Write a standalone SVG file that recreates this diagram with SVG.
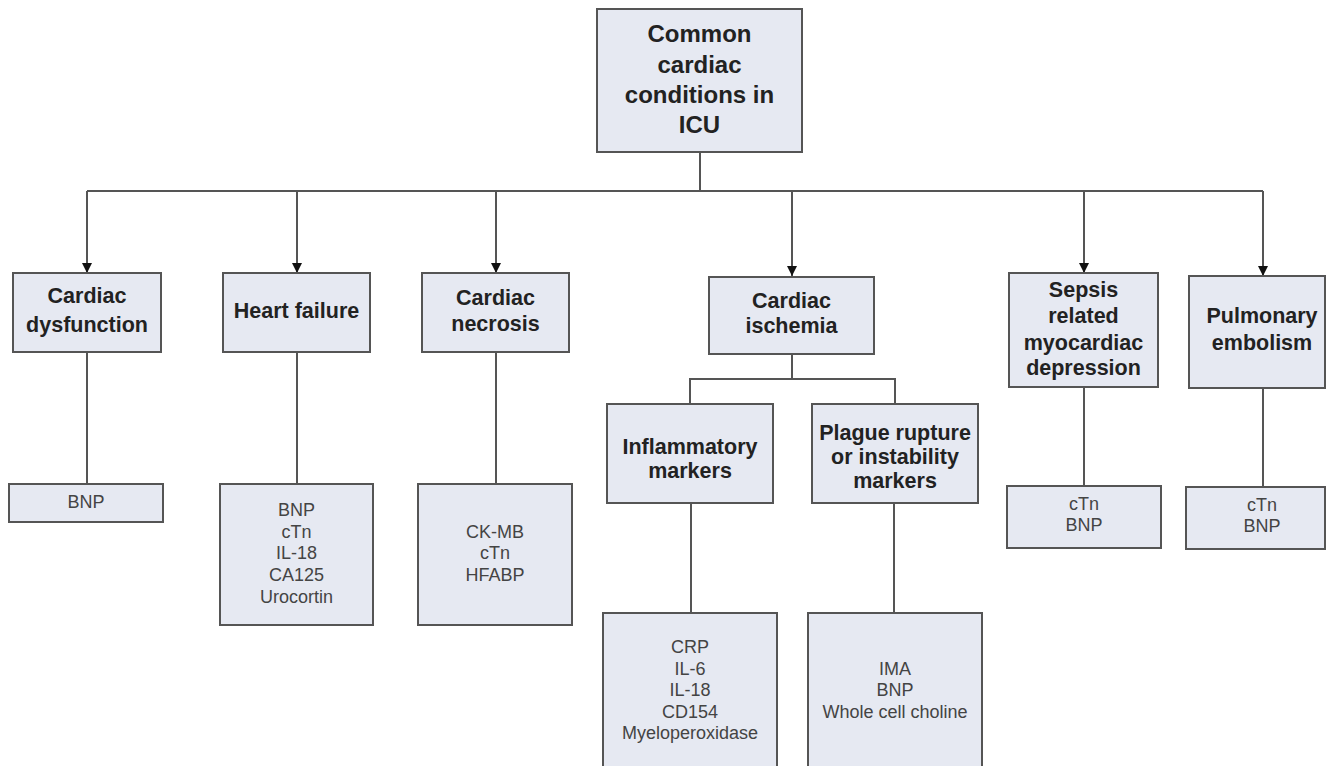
<svg xmlns="http://www.w3.org/2000/svg" width="1327" height="766" viewBox="0 0 1327 766">
<defs>
<marker id="arr" viewBox="0 0 10 10" refX="10" refY="5" markerWidth="10" markerHeight="10" markerUnits="userSpaceOnUse" orient="auto">
<path d="M0,0 L10,5 L0,10 z" fill="#111"/>
</marker>
<style>
.box{fill:#e6e9f2;stroke:#555;stroke-width:2}
.t{font-family:"Liberation Sans",Arial,sans-serif;font-weight:bold;font-size:21.5px;fill:#222;text-anchor:middle}
.tr{font-family:"Liberation Sans",Arial,sans-serif;font-weight:bold;font-size:24px;fill:#222;text-anchor:middle}
.s{font-family:"Liberation Sans",Arial,sans-serif;font-size:18px;fill:#444;text-anchor:middle}
.c{fill:none;stroke:#555;stroke-width:2}
</style>
</defs>
<rect width="1327" height="766" fill="#fff"/>
<g id="connectors">
<path class="c" d="M700,152 V191"/>
<path class="c" d="M87,191 H1263"/>
<path class="c" d="M87,191 V273" marker-end="url(#arr)"/>
<path class="c" d="M297,191 V273" marker-end="url(#arr)"/>
<path class="c" d="M496,191 V273" marker-end="url(#arr)"/>
<path class="c" d="M792,191 V276" marker-end="url(#arr)"/>
<path class="c" d="M1084,191 V273" marker-end="url(#arr)"/>
<path class="c" d="M1263,191 V276" marker-end="url(#arr)"/>
<path class="c" d="M87,352 V484"/>
<path class="c" d="M297,352 V484"/>
<path class="c" d="M496,352 V484"/>
<path class="c" d="M1084,387 V486"/>
<path class="c" d="M1263,388 V487"/>
<path class="c" d="M792,354 V379 M690,404 V379 H895 V404"/>
<path class="c" d="M691,503 V613"/>
<path class="c" d="M894,503 V613"/>
</g>
<g id="root">
<rect class="box" x="597" y="9" width="205" height="143"/>
<text class="tr" x="699.5" y="42">Common</text>
<text class="tr" x="699.5" y="73">cardiac</text>
<text class="tr" x="699.5" y="103">conditions in</text>
<text class="tr" x="699.5" y="133">ICU</text>
</g>
<g id="dysfunction">
<rect class="box" x="13" y="273" width="148" height="79"/>
<text class="t" x="87" y="303">Cardiac</text>
<text class="t" x="87" y="332">dysfunction</text>
</g>
<g id="heart-failure">
<rect class="box" x="223" y="273" width="147" height="79"/>
<text class="t" x="296.5" y="318">Heart failure</text>
</g>
<g id="necrosis">
<rect class="box" x="422" y="273" width="147" height="79"/>
<text class="t" x="495.5" y="305">Cardiac</text>
<text class="t" x="495.5" y="331">necrosis</text>
</g>
<g id="ischemia">
<rect class="box" x="709" y="277" width="165" height="77"/>
<text class="t" x="791.5" y="308">Cardiac</text>
<text class="t" x="791.5" y="333">ischemia</text>
</g>
<g id="sepsis">
<rect class="box" x="1009" y="273" width="149" height="114"/>
<text class="t" x="1083.5" y="297">Sepsis</text>
<text class="t" x="1083.5" y="323">related</text>
<text class="t" x="1083.5" y="350">myocardiac</text>
<text class="t" x="1083.5" y="375">depression</text>
</g>
<g id="pulmonary">
<rect class="box" x="1189" y="276" width="136" height="112"/>
<text class="t" x="1262" y="323">Pulmonary</text>
<text class="t" x="1262" y="350">embolism</text>
</g>
<g id="inflammatory">
<rect class="box" x="607" y="404" width="166" height="99"/>
<text class="t" x="690" y="454">Inflammatory</text>
<text class="t" x="690" y="478">markers</text>
</g>
<g id="plague">
<rect class="box" x="812" y="404" width="166" height="99"/>
<text class="t" x="895" y="440">Plague rupture</text>
<text class="t" x="895" y="464">or instability</text>
<text class="t" x="895" y="488">markers</text>
</g>
<g id="dysfunction-markers">
<rect class="box" x="9" y="484" width="154" height="38"/>
<text class="s" x="86" y="508">BNP</text>
</g>
<g id="hf-markers">
<rect class="box" x="220" y="484" width="153" height="141"/>
<text class="s" x="296.5" y="516">BNP</text>
<text class="s" x="296.5" y="538">cTn</text>
<text class="s" x="296.5" y="559">IL-18</text>
<text class="s" x="296.5" y="581">CA125</text>
<text class="s" x="296.5" y="603">Urocortin</text>
</g>
<g id="necrosis-markers">
<rect class="box" x="418" y="484" width="154" height="141"/>
<text class="s" x="495" y="538">CK-MB</text>
<text class="s" x="495" y="559">cTn</text>
<text class="s" x="495" y="581">HFABP</text>
</g>
<g id="inflammatory-markers">
<rect class="box" x="603" y="613" width="174" height="160"/>
<text class="s" x="690" y="653">CRP</text>
<text class="s" x="690" y="675">IL-6</text>
<text class="s" x="690" y="696">IL-18</text>
<text class="s" x="690" y="718">CD154</text>
<text class="s" x="690" y="739">Myeloperoxidase</text>
</g>
<g id="plague-markers">
<rect class="box" x="808" y="613" width="174" height="160"/>
<text class="s" x="895" y="675">IMA</text>
<text class="s" x="895" y="696">BNP</text>
<text class="s" x="895" y="718">Whole cell choline</text>
</g>
<g id="sepsis-markers">
<rect class="box" x="1007" y="486" width="154" height="62"/>
<text class="s" x="1084" y="510">cTn</text>
<text class="s" x="1084" y="531">BNP</text>
</g>
<g id="pulmonary-markers">
<rect class="box" x="1186" y="487" width="139" height="62"/>
<text class="s" x="1262" y="511">cTn</text>
<text class="s" x="1262" y="532">BNP</text>
</g>
</svg>
